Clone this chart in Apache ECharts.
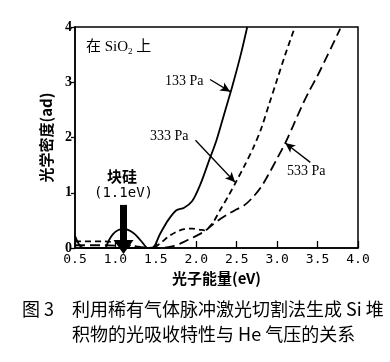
<!DOCTYPE html>
<html><head><meta charset="utf-8">
<script src="https://cdn.jsdelivr.net/npm/echarts@6/dist/echarts.min.js"></script>
<style>html,body{margin:0;padding:0;background:#fff}#c{width:390px;height:362px}</style>
</head><body><div id="c"></div>
<script>
// ---- data ----
const xTicks = [0.5, 1.0, 1.5, 2.0, 2.5, 3.0, 3.5, 4.0];
const yTicks = [0, 1, 2, 3, 4];
const s133x = [0.5, 0.6, 0.8, 1.0, 1.2, 1.45, 1.55, 1.65, 1.75, 1.85, 1.95, 2.05, 2.15, 2.25, 2.35, 2.45, 2.55, 2.63];
const s133y = [0.22, 0, 0, 0, 0, 0, 0.25, 0.5, 0.68, 0.73, 0.85, 1.15, 1.55, 1.95, 2.45, 2.95, 3.5, 4.0];
const s333x = [0.5, 0.85, 1.45, 1.55, 1.65, 1.75, 1.85, 1.95, 2.05, 2.1, 2.2, 2.3, 2.4, 2.5, 2.6, 2.7, 2.8, 2.9, 3.0, 3.1, 3.22];
const s333y = [0.12, 0.12, 0, 0.08, 0.2, 0.29, 0.34, 0.35, 0.33, 0.32, 0.45, 0.7, 0.95, 1.22, 1.5, 1.8, 2.15, 2.6, 3.05, 3.5, 4.0];
const s533x = [0.5, 0.85, 1.55, 1.7, 1.8, 1.9, 2.0, 2.1, 2.2, 2.3, 2.4, 2.5, 2.6, 2.7, 2.8, 2.9, 3.0, 3.1, 3.2, 3.3, 3.4, 3.5, 3.6, 3.7, 3.78];
const s533y = [0.05, 0.05, 0, 0.03, 0.08, 0.15, 0.22, 0.3, 0.42, 0.53, 0.62, 0.7, 0.78, 0.92, 1.1, 1.35, 1.62, 1.9, 2.22, 2.55, 2.85, 3.12, 3.42, 3.72, 3.97];
const bulkX = [0.88, 0.92, 0.97, 1.03, 1.1, 1.17, 1.24, 1.31, 1.36, 1.39];
const bulkY = [0, 0.14, 0.25, 0.32, 0.35, 0.32, 0.25, 0.14, 0.05, 0];
const bulkArrowX = 1.1, bulkArrowTop = 0.78;
const seriesNames = ['133 Pa', '333 Pa', '533 Pa'];
const labelArrows = [ // [from, to] in data units
  [[2.17, 3.05], [2.42, 2.83]],
  [[1.99, 1.95], [2.48, 1.19]],
  [[3.41, 1.55], [3.10, 1.90]]
];
// ---- chart ----
const zip = (a, b) => a.map((v, i) => [v, b[i]]);
const serif = "'Liberation Serif','Noto Sans CJK SC',serif";
const cjk = "'Noto Sans CJK SC','Liberation Serif',serif";
const chart = echarts.init(document.getElementById('c'), null, {renderer: 'canvas'});
const arrowLine = (p) => ({
  type: 'line', data: [], silent: true,
  markLine: {silent: true, symbol: ['none', 'arrow'], symbolSize: [7, 10], animation: false,
    lineStyle: {color: '#000', width: 1.3, type: 'solid'}, label: {show: false},
    data: [[{coord: p[0]}, {coord: p[1]}]]}
});
chart.setOption({
  animation: false,
  backgroundColor: '#fff',
  grid: {left: 75, right: 32, top: 27, bottom: 114, show: true, borderColor: '#000', borderWidth: 1.5},
  xAxis: {
    type: 'value', min: xTicks[0], max: xTicks[xTicks.length - 1], interval: 0.5,
    name: '光子能量(eV)', nameLocation: 'middle', nameGap: 18,
    nameTextStyle: {fontFamily: cjk, fontSize: 15, fontWeight: 'bold', color: '#000'},
    axisLine: {lineStyle: {color: '#000', width: 1.5}},
    axisTick: {inside: true, length: 7, lineStyle: {color: '#000', width: 1.3}},
    axisLabel: {color: '#000', fontFamily: "'DejaVu Sans Mono',monospace", fontSize: 13, margin: 5,
      formatter: v => v.toFixed(1)},
    splitLine: {show: false}
  },
  yAxis: {
    type: 'value', min: yTicks[0], max: yTicks[yTicks.length - 1], interval: 1,
    name: '光学密度(ad)', nameLocation: 'middle', nameGap: 19, nameRotate: 90,
    nameTextStyle: {fontFamily: cjk, fontSize: 15, fontWeight: 'bold', color: '#000'},
    axisLine: {lineStyle: {color: '#000', width: 1.5}},
    axisTick: {inside: false, length: 4, lineStyle: {color: '#000', width: 1.3}},
    axisLabel: {color: '#000', fontFamily: serif, fontSize: 14, fontWeight: 'bold', margin: 3},
    splitLine: {show: false}
  },
  series: [
    {name: seriesNames[0], type: 'line', data: zip(s133x, s133y), smooth: 0.3, symbol: 'none',
      lineStyle: {color: '#000', width: 1.8}},
    {name: seriesNames[1], type: 'line', data: zip(s333x, s333y), smooth: 0.3, symbol: 'none',
      lineStyle: {color: '#000', width: 1.8, type: [6, 4]}},
    {name: seriesNames[2], type: 'line', data: zip(s533x, s533y), smooth: 0.3, symbol: 'none',
      lineStyle: {color: '#000', width: 1.8, type: [10, 5]}},
    {name: 'bulk', type: 'line', data: zip(bulkX, bulkY), smooth: 0.4, symbol: 'none',
      lineStyle: {color: '#000', width: 1.8}},
    {name: 'bulkArrow', type: 'line', data: [], silent: true,
      markLine: {silent: true, symbol: ['none', 'triangle'], symbolSize: [20, 14], animation: false,
        lineStyle: {color: '#000', width: 7, type: 'solid'}, label: {show: false},
        data: [[{coord: [bulkArrowX, bulkArrowTop]}, {coord: [bulkArrowX, 0.02]}]]}},
    arrowLine(labelArrows[0]), arrowLine(labelArrows[1]), arrowLine(labelArrows[2])
  ],
  graphic: [
    {type: 'text', left: 86, top: 40, style: {text: '在 SiO{s|2} 上', fontFamily: serif, fontSize: 15, fill: '#000',
      rich: {s: {fontSize: 9, fontFamily: serif, padding: [8, 0, 0, 0]}}}},
    {type: 'text', left: 165, top: 74, style: {text: seriesNames[0], fontFamily: serif, fontSize: 14, fill: '#000'}},
    {type: 'text', left: 150, top: 129, style: {text: seriesNames[1], fontFamily: serif, fontSize: 14, fill: '#000'}},
    {type: 'text', left: 287, top: 164, style: {text: seriesNames[2], fontFamily: serif, fontSize: 14, fill: '#000'}},
    {type: 'text', left: 107, top: 169, style: {text: '块硅', fontFamily: cjk, fontSize: 15, fontWeight: 'bold', fill: '#000'}},
    {type: 'text', left: 94, top: 186, style: {text: '(1.1eV)', fontFamily: "'DejaVu Sans Mono',monospace", fontSize: 14, fill: '#000'}},
    {type: 'text', left: 22, top: 300, style: {text: '图 3', fontFamily: cjk, fontSize: 18, fill: '#000'}},
    {type: 'text', left: 72, top: 300, style: {text: '利用稀有气体脉冲激光切割法生成 Si 堆', fontFamily: cjk, fontSize: 18, fill: '#000'}},
    {type: 'text', left: 72, top: 325, style: {text: '积物的光吸收特性与 He 气压的关系', fontFamily: cjk, fontSize: 18, fill: '#000'}}
  ]
});
</script></body></html>
